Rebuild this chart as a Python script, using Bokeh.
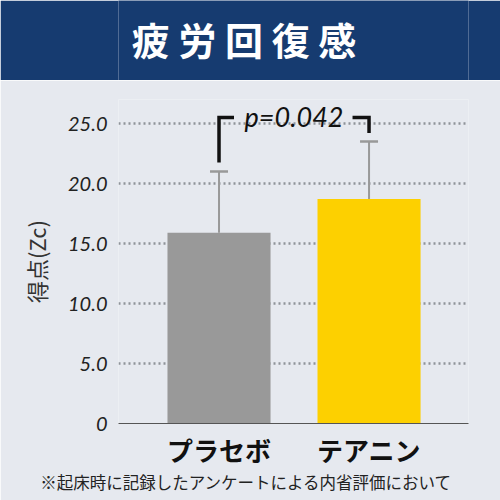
from bokeh.plotting import figure
from bokeh.models import (Range1d, FixedTicker, Whisker, TeeHead,
                          ColumnDataSource, Label, LinearAxis)
from bokeh.layouts import column
from bokeh.embed import file_html
from bokeh.resources import INLINE

# ---- data ----
title = "疲労回復感"
categories = ["プラセボ", "テアニン"]
means = [15.9, 18.7]
sd_upper = [21.0, 23.5]
bar_colors = ["#999999", "#fdd000"]
y_ticks = [0, 5, 10, 15, 20, 25]
y_tick_labels = ["0", "5.0", "10.0", "15.0", "20.0", "25.0"]
y_label = "得点(Zc)"
p_text = "p=0.042"
bracket_top = 25.5
bracket_left_bottom = 21.75
bracket_right_bottom = 24.2
footnote = "※起床時に記録したアンケートによる内省評価において"

NAVY = "#163b70"
BG = "#e6e9ef"

xpos = list(range(len(categories)))

# ---- header ----
h = figure(width=500, height=80, x_range=Range1d(0, 1), y_range=Range1d(0, 1),
           x_axis_type=None, y_axis_type=None, toolbar_location=None,
           output_backend="svg", min_border=0)
h.background_fill_color = NAVY
h.border_fill_color = NAVY
h.outline_line_color = None
h.grid.visible = False
h.add_layout(Label(x=0.3586, y=0.53, text=" ".join(title), text_align="center",
                   text_baseline="middle", text_color="white",
                   text_font="Noto Sans CJK JP", text_font_style="bold",
                   text_font_size="38px"))

# ---- main chart ----
src = ColumnDataSource(dict(x=xpos, mean=means, upper=sd_upper, color=bar_colors))

p = figure(width=500, height=420,
           x_range=Range1d(-0.67, 1.663), y_range=Range1d(0, 27),
           toolbar_location=None, output_backend="svg",
           min_border_top=19, min_border_bottom=77, min_border_left=118, min_border_right=32)
p.background_fill_color = BG
p.border_fill_color = BG
p.outline_line_color = None

p.vbar(x="x", top="mean", width=0.687, color="color", line_color=None, source=src)

p.add_layout(Whisker(base="x", lower="mean", upper="upper", source=src,
                     line_color="#999999", line_width=2, lower_head=None,
                     upper_head=TeeHead(size=18, line_color="#999999", line_width=2.5)))

# significance bracket
BR = dict(line_color="#111111", line_width=3.5, line_join="miter")
p.line(x=[xpos[0] + 0.1, xpos[0], xpos[0]],
       y=[bracket_top, bracket_top, bracket_left_bottom], **BR)
p.line(x=[xpos[1] - 0.11, xpos[1], xpos[1]],
       y=[bracket_top, bracket_top, bracket_right_bottom], **BR)
p.add_layout(Label(x=(xpos[0] + xpos[1]) / 2, y=bracket_top + 0.1, text=p_text,
                   text_align="center", text_baseline="middle", text_font="Lato",
                   text_font_style="italic", text_font_size="27px",
                   text_color="#111111"))

# y axis
p.yaxis.ticker = FixedTicker(ticks=y_ticks)
p.yaxis.major_label_overrides = {t: l for t, l in zip(y_ticks, y_tick_labels)}
p.yaxis.axis_line_color = None
p.yaxis.major_tick_line_color = None
p.yaxis.minor_tick_line_color = None
p.yaxis.major_label_text_font = "Lato"
p.yaxis.major_label_text_font_style = "italic"
p.yaxis.major_label_text_font_size = "20px"
p.yaxis.major_label_text_color = "#222222"
p.yaxis.major_label_standoff = 5
p.yaxis.axis_label = y_label
p.yaxis.axis_label_text_font = "Noto Sans CJK JP"
p.yaxis.axis_label_text_font_style = "normal"
p.yaxis.axis_label_text_font_size = "22px"
p.yaxis.axis_label_text_color = "#333333"
p.yaxis.axis_label_standoff = 13

# x axis with category names
p.xaxis.ticker = FixedTicker(ticks=xpos)
p.xaxis.major_label_overrides = {x: c for x, c in zip(xpos, categories)}
p.xaxis.axis_line_color = "#555555"
p.xaxis.axis_line_width = 1
p.xaxis.major_tick_line_color = None
p.xaxis.minor_tick_line_color = None
p.xaxis.major_label_text_font = "Noto Sans CJK JP"
p.xaxis.major_label_text_font_style = "bold"
p.xaxis.major_label_text_font_size = "26px"
p.xaxis.major_label_text_color = "#111111"
p.xaxis.major_label_standoff = 1

# footnote as a second, line-less axis below the categories
foot_x = 0.183
foot_axis = LinearAxis(ticker=FixedTicker(ticks=[foot_x]),
                       major_label_overrides={foot_x: footnote},
                       axis_line_color=None, major_tick_line_color=None,
                       minor_tick_line_color=None, major_label_standoff=-7,
                       major_label_text_font="Noto Sans CJK JP",
                       major_label_text_font_size="16.5px",
                       major_label_text_color="#222222")
p.add_layout(foot_axis, "below")

p.xgrid.visible = False
p.ygrid.ticker = FixedTicker(ticks=y_ticks[1:])
p.ygrid.grid_line_color = "#8f9399"
p.ygrid.grid_line_width = 2.5
p.ygrid.grid_line_dash = "2 3"

layout = column(h, p, spacing=0)
open("out.html", "w").write(file_html(layout, INLINE))
